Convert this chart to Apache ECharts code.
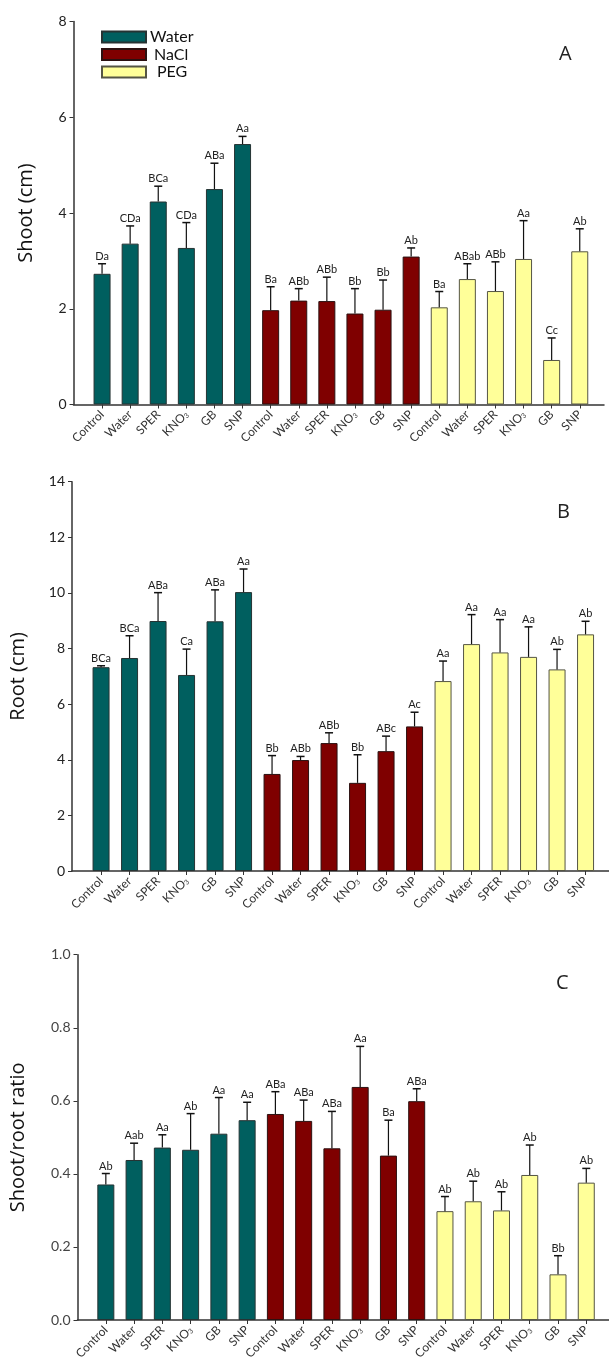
<!DOCTYPE html>
<html>
<head>
<meta charset="utf-8">
<script src="https://cdn.jsdelivr.net/npm/echarts@6/dist/echarts.min.js"></script>
<style>
  html, body { margin: 0; padding: 0; background: #fff; }
  #chart { width: 609px; height: 1360px; }
</style>
</head>
<body>
<div id="chart"></div>
<script>
// groups x treatments, 18 bars per panel
const groups = ['Water', 'NaCl', 'PEG']
const treatments = ['Control', 'Water', 'SPER', 'KNO3', 'GB', 'SNP']
const categories = groups.flatMap(g => treatments.map(t => g + '|' + t))

// A - shoot length (cm)
const shootMean = [2.73, 3.36, 4.24, 3.27, 4.50, 5.44,  1.97, 2.17, 2.16, 1.90, 1.98, 3.09,  2.03, 2.62, 2.37, 3.04, 0.93, 3.20]
const shootSd   = [0.21, 0.37, 0.32, 0.53, 0.54, 0.16,  0.49, 0.25, 0.50, 0.52, 0.62, 0.18,  0.33, 0.32, 0.61, 0.80, 0.46, 0.47]
const shootSig  = ['Da', 'CDa', 'BCa', 'CDa', 'ABa', 'Aa',  'Ba', 'ABb', 'ABb', 'Bb', 'Bb', 'Ab',  'Ba', 'ABab', 'ABb', 'Aa', 'Cc', 'Ab']

// B - root length (cm)
const rootMean = [7.33, 7.66, 8.99, 7.05, 8.98, 10.03,  3.49, 3.99, 4.60, 3.17, 4.31, 5.20,  6.83, 8.16, 7.86, 7.70, 7.25, 8.51]
const rootSd   = [0.05, 0.80, 1.02, 0.93, 1.13, 0.83,  0.66, 0.13, 0.37, 1.01, 0.54, 0.51,  0.72, 1.06, 1.18, 1.08, 0.72, 0.47]
const rootSig  = ['BCa', 'BCa', 'ABa', 'Ca', 'ABa', 'Aa',  'Bb', 'ABb', 'ABb', 'Bb', 'ABc', 'Ac',  'Aa', 'Aa', 'Aa', 'Aa', 'Ab', 'Ab']

// C - shoot/root ratio
const ratioMean = [0.371, 0.438, 0.472, 0.466, 0.510, 0.547,  0.564, 0.545, 0.470, 0.638, 0.450, 0.599,  0.298, 0.325, 0.300, 0.397, 0.125, 0.376]
const ratioSd   = [0.030, 0.046, 0.035, 0.099, 0.099, 0.049,  0.061, 0.057, 0.101, 0.111, 0.097, 0.034,  0.040, 0.055, 0.051, 0.082, 0.051, 0.039]
const ratioSig  = ['Ab', 'Aab', 'Aa', 'Ab', 'Aa', 'Aa',  'ABa', 'ABa', 'ABa', 'Aa', 'Ba', 'ABa',  'Ab', 'Ab', 'Ab', 'Ab', 'Bb', 'Ab']

const groupColors = { Water: '#005f5f', NaCl: '#7f0000', PEG: '#ffff99' }
const groupBorders = { Water: '#263333', NaCl: '#2b1111', PEG: '#555544' }

const labelFont = 'Lato, "Open Sans", sans-serif'
const titleFont = '"Open Sans", "DejaVu Sans", sans-serif'

// layout of each panel (pixels)
const panels = [
  { mean: shootMean, sd: shootSd, sig: shootSig, name: 'Shoot (cm)', letter: 'A',
    top: 21.5, height: 383, axisLeft: 73.5, axisRight: 5, barLeft: 88, barWidth: 505.8,
    min: 0, max: 8, interval: 2, digits: 0, nameGap: 37, tickColor: '#222', letterPos: [566, 55] },
  { mean: rootMean, sd: rootSd, sig: rootSig, name: 'Root (cm)', letter: 'B',
    top: 481.7, height: 389.3, axisLeft: 72, axisRight: 0, barLeft: 86.8, barWidth: 513,
    min: 0, max: 14, interval: 2, digits: 0, nameGap: 44, tickColor: '#222', letterPos: [564, 513] },
  { mean: ratioMean, sd: ratioSd, sig: ratioSig, name: 'Shoot/root ratio', letter: 'C',
    top: 954.7, height: 365.3, axisLeft: 77.5, axisRight: 0, barLeft: 91.7, barWidth: 508.7,
    min: 0, max: 1, interval: 0.2, digits: 1, nameGap: 49, tickColor: '#444', letterPos: [563, 984] }
]

const grid = []
const xAxis = []
const yAxis = []
const series = []
const graphic = []

panels.forEach((p, k) => {
  const ga = k * 2      // grid holding axis lines + y ticks
  const gb = k * 2 + 1  // grid holding the bars
  grid.push({ left: p.axisLeft, right: p.axisRight, top: p.top, height: p.height, outerBoundsMode: 'none', containLabel: false })
  grid.push({ left: p.barLeft, width: p.barWidth, top: p.top, height: p.height, outerBoundsMode: 'none', containLabel: false })

  xAxis.push({
    gridIndex: ga, type: 'value', min: 0, max: 1,
    axisLine: { show: true, lineStyle: { color: '#333', width: 1.5 } },
    axisTick: { show: false }, axisLabel: { show: false }, splitLine: { show: false }
  })
  yAxis.push({
    gridIndex: ga, type: 'value', min: p.min, max: p.max, interval: p.interval,
    axisLine: { show: true, lineStyle: { color: '#333', width: 1.5 } },
    axisTick: { show: true, length: 4, lineStyle: { color: '#333', width: 1 } },
    axisLabel: {
      margin: 7, fontSize: 14, color: p.tickColor, fontFamily: labelFont,
      formatter: v => v.toFixed(p.digits)
    },
    splitLine: { show: false },
    name: p.name, nameLocation: 'middle', nameGap: p.nameGap, nameRotate: 90,
    nameTextStyle: { fontSize: 20, color: '#111', fontFamily: titleFont }
  })

  xAxis.push({
    gridIndex: gb, type: 'category', data: categories,
    axisLine: { show: false },
    axisTick: { show: true, alignWithLabel: true, length: 4, lineStyle: { color: '#333', width: 1 } },
    axisLabel: {
      interval: 0, rotate: 45, margin: 8, fontSize: 12, color: '#333', fontFamily: labelFont,
      formatter: v => {
        const t = v.split('|')[1]
        return t === 'KNO3' ? 'KNO{sub|3}' : t
      },
      rich: { sub: { fontSize: 7, verticalAlign: 'bottom', padding: [5, 0, 0, 0], color: '#333' } }
    },
    splitLine: { show: false }
  })
  yAxis.push({ gridIndex: gb, type: 'value', min: p.min, max: p.max, show: false })

  const yIdx = k * 2 + 1
  groups.forEach((g, gi) => {
    series.push({
      name: g, type: 'bar', xAxisIndex: yIdx, yAxisIndex: yIdx,
      barWidth: 17, barGap: '-100%',
      itemStyle: { color: groupColors[g], borderColor: groupBorders[g], borderWidth: 1 },
      data: p.mean.map((v, i) => Math.floor(i / 6) === gi ? v : '-'),
      z: 2
    })
  })

  // error bars with significance letters
  series.push({
    type: 'custom', xAxisIndex: yIdx, yAxisIndex: yIdx, z: 3,
    data: p.mean.map((v, i) => [i, v, p.sd[i]]),
    renderItem: (params, api) => {
      const i = api.value(0)
      const base = api.coord([i, api.value(1)])
      const top = api.coord([i, api.value(1) + api.value(2)])
      return {
        type: 'group',
        children: [
          { type: 'line', shape: { x1: base[0], y1: base[1], x2: top[0], y2: top[1] },
            style: { stroke: '#111', lineWidth: 1.2 } },
          { type: 'line', shape: { x1: top[0] - 4, y1: top[1], x2: top[0] + 4, y2: top[1] },
            style: { stroke: '#111', lineWidth: 1.5 } },
          { type: 'text', x: top[0], y: top[1] - 2,
            style: { text: p.sig[params.dataIndex], fill: '#222', fontSize: 11, fontFamily: labelFont,
              align: 'center', verticalAlign: 'bottom' } }
        ]
      }
    }
  })

  graphic.push({
    type: 'text', left: p.letterPos[0] - 7, top: p.letterPos[1] - 11,
    style: { text: p.letter, fontSize: 20, fill: '#222', fontFamily: titleFont }
  })
})

const chart = echarts.init(document.getElementById('chart'), null, { renderer: 'canvas' })
chart.setOption({
  animation: false,
  backgroundColor: '#fff',
  grid, xAxis, yAxis, series, graphic,
  legend: {
    orient: 'vertical', left: 96, top: 24,
    itemWidth: 44, itemHeight: 11, itemGap: 1.5,
    icon: 'rect',
    textStyle: { fontSize: 16, lineHeight: 16, color: '#111', fontFamily: labelFont, padding: [0, 0, 0, -1] },
    data: [
      { name: 'Water' },
      { name: 'NaCl', textStyle: { padding: [0, 0, 0, 3] } },
      { name: 'PEG', textStyle: { padding: [0, 0, 0, 6] } }
    ],
    selectedMode: false
  }
})
</script>
</body>
</html>
